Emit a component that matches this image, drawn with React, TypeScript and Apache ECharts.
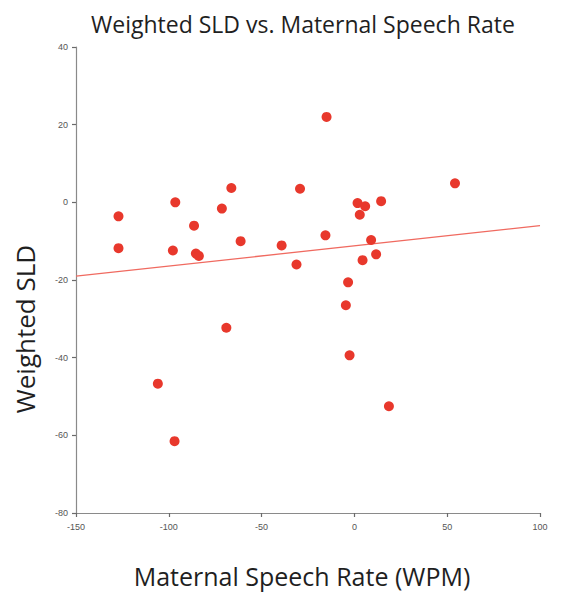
import React, { useEffect, useRef } from "react";
import * as echarts from "echarts";

const speechRate: number[] = [
  -127.1, -127.1, -96.5, -97.8, -86.4, -85.4, -83.8, -66.3, -71.4, -61.3,
  -29.3, -39.2, -31.2, -15.6, -15.0, 54.2, 1.7, 5.8, 14.4, 2.9,
  9.0, 11.7, 4.4, -3.4, -4.6, -69.0, -105.9, -2.6, 18.6, -96.9,
];
const weightedSLD: number[] = [
  -3.6, -11.8, 0.0, -12.4, -6.0, -13.2, -13.8, 3.7, -1.6, -10.0,
  3.5, -11.1, -16.0, -8.5, 22.0, 4.9, -0.2, -1.0, 0.3, -3.2,
  -9.7, -13.4, -14.9, -20.6, -26.5, -32.3, -46.7, -39.4, -52.5, -61.5,
];
const trendX: number[] = [-150, 100];
const trendY: number[] = [-19.0, -6.0];

const titleText = "Weighted SLD vs. Maternal Speech Rate";
const xTitle = "Maternal Speech Rate (WPM)";
const yTitle = "Weighted SLD";

export default function App() {
  const ref = useRef<HTMLDivElement>(null);
  useEffect(() => {
    document.body.style.margin = "0";
    if (!ref.current) return;
    const chart = echarts.init(ref.current, undefined, { renderer: "svg" });
    const font = "Open Sans";
    const axisCommon = {
      axisLine: { show: true, onZero: false, lineStyle: { color: "#8a8a8a", width: 1.2 } },
      axisTick: { show: true, length: 4, lineStyle: { color: "#6a6a6a", width: 1.2 } },
      axisLabel: { color: "#555", fontSize: 9, fontFamily: "Liberation Sans" },
      splitLine: { show: false },
    };
    chart.setOption({
      animation: false,
      backgroundColor: "#fff",
      title: {
        text: titleText,
        left: 86,
        top: 7,
        textStyle: { fontSize: 23, fontWeight: "normal", color: "#1f1f1f", fontFamily: font },
      },
      grid: { left: 76, right: 46, top: 47, bottom: 81 },
      xAxis: {
        type: "value",
        min: -150,
        max: 100,
        interval: 50,
        ...axisCommon,
        axisLabel: { ...axisCommon.axisLabel, margin: 9 },
      },
      yAxis: {
        type: "value",
        min: -80,
        max: 40,
        interval: 20,
        ...axisCommon,
        axisLabel: { ...axisCommon.axisLabel, margin: 8 },
      },
      graphic: [
        {
          type: "text",
          x: 302,
          y: 576,
          style: {
            text: xTitle,
            fontSize: 25,
            fontFamily: font,
            fill: "#1f1f1f",
            textAlign: "center",
            textVerticalAlign: "middle",
          },
        },
        {
          type: "text",
          x: 25,
          y: 329,
          rotation: Math.PI / 2,
          style: {
            text: yTitle,
            fontSize: 26,
            fontFamily: font,
            fill: "#1f1f1f",
            textAlign: "center",
            textVerticalAlign: "middle",
          },
        },
      ],
      series: [
        {
          type: "line",
          data: trendX.map((x, i) => [x, trendY[i]]),
          symbol: "none",
          lineStyle: { color: "#f06a60", width: 1.3 },
          silent: true,
          z: 1,
        },
        {
          type: "scatter",
          data: speechRate.map((x, i) => [x, weightedSLD[i]]),
          symbolSize: 10,
          itemStyle: { color: "#e8382c", opacity: 1 },
          z: 2,
        },
      ],
    });
    return () => chart.dispose();
  }, []);
  return (
    <div
      ref={ref}
      style={{ width: 586, height: 594, position: "absolute", left: 0, top: 0 }}
    />
  );
}
